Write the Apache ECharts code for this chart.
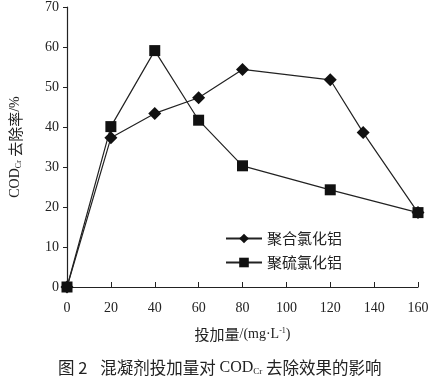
<!DOCTYPE html>
<html><head><meta charset="utf-8">
<script src="https://cdn.jsdelivr.net/npm/echarts@6/dist/echarts.min.js"></script>
<style>html,body{margin:0;padding:0;background:#fff}#c{width:440px;height:382px}</style>
</head><body><div id="c"></div>
<script>
const seriesNames = ['聚合氯化铝', '聚硫氯化铝'];
const pacX = [0, 20, 40, 60, 80, 120, 135, 160];
const pacY = [0, 37.3, 43.4, 47.3, 54.4, 51.8, 38.6, 18.6];
const pasX = [0, 20, 40, 60, 80, 120, 160];
const pasY = [0, 40.1, 59.1, 41.7, 30.3, 24.3, 18.6];
const xTicks = [0, 20, 40, 60, 80, 100, 120, 140, 160];
const yTicks = [0, 10, 20, 30, 40, 50, 60, 70];

const serif = '"Liberation Serif","DejaVu Serif",serif';
const cjk = '"Noto Sans CJK SC","Noto Sans",sans-serif';
const chart = echarts.init(document.getElementById('c'));
chart.setOption({
  animation: false,
  grid: {left: 64, right: 22, top: 7, bottom: 95},
  graphic: [{
    type: 'text', left: 58, top: 359,
    style: {
      text: '{a|图 2}{g|}{a|混凝剂投加量对 }{b|COD}{s|Cr}{a| 去除效果的影响}',
      rich: {
        a: {fontFamily: cjk, fontSize: 16.5, fill: '#222', lineHeight: 20},
        g: {width: 13, lineHeight: 20},
        b: {fontFamily: serif, fontSize: 16, fill: '#222', lineHeight: 20},
        s: {fontFamily: serif, fontSize: 9, fill: '#222', lineHeight: 20, padding: [8, 0, 0, 0]}
      }
    }
  }],
  legend: {
    data: seriesNames, orient: 'vertical', left: 220, top: 226,
    itemWidth: 36, itemHeight: 12, itemGap: 9,
    textStyle: {fontFamily: cjk, fontSize: 15, color: '#222'}
  },
  xAxis: {
    type: 'value', min: 0, max: 160, interval: 20,
    name: '{a|投加量}{b|/(mg·L}{c|-1}{b|)}', nameLocation: 'middle', nameGap: 40,
    nameTextStyle: {
      rich: {
        a: {fontFamily: cjk, fontSize: 15, color: '#222'},
        b: {fontFamily: serif, fontSize: 14, color: '#222'},
        c: {fontFamily: serif, fontSize: 8, color: '#222', verticalAlign: 'top', padding: [0, 0, 6, 0]}
      }
    },
    axisLine: {lineStyle: {color: '#222', width: 1.2}},
    axisTick: {inside: true, length: 5, lineStyle: {color: '#222'}},
    axisLabel: {fontFamily: serif, fontSize: 14, color: '#222', margin: 14,
      formatter: v => xTicks.includes(v) ? String(v) : ''},
    splitLine: {show: false}
  },
  yAxis: {
    type: 'value', min: 0, max: 70, interval: 10,
    name: '{b|COD}{s|Cr}{a| 去除率}{b|/%}', nameLocation: 'middle', nameGap: 44, nameRotate: 90,
    nameTextStyle: {
      rich: {
        a: {fontFamily: cjk, fontSize: 15, color: '#222'},
        b: {fontFamily: serif, fontSize: 14, color: '#222'},
        s: {fontFamily: serif, fontSize: 8, color: '#222', verticalAlign: 'bottom', padding: [6, 0, 0, 0]}
      }
    },
    axisLine: {show: true, lineStyle: {color: '#222', width: 1.2}},
    axisTick: {show: true, length: 4, lineStyle: {color: '#222'}},
    axisLabel: {fontFamily: serif, fontSize: 14, color: '#222', margin: 8,
      formatter: v => yTicks.includes(v) ? String(v) : ''},
    splitLine: {show: false}
  },
  series: [
    {name: seriesNames[0], type: 'line', data: pacX.map((x, i) => [x, pacY[i]]),
      symbol: 'diamond', symbolSize: 13, lineStyle: {color: '#222', width: 1.2},
      itemStyle: {color: '#111'}, z: 3},
    {name: seriesNames[1], type: 'line', data: pasX.map((x, i) => [x, pasY[i]]),
      symbol: 'rect', symbolSize: 11, lineStyle: {color: '#222', width: 1.2},
      itemStyle: {color: '#111'}, z: 2}
  ]
});
</script></body></html>
